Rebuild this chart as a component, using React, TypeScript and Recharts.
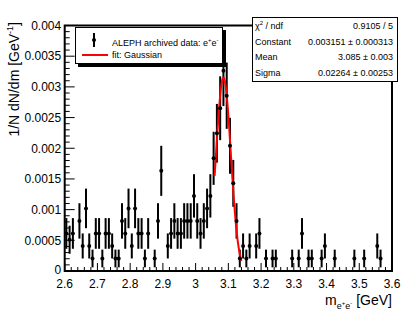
import React from 'react';
import { ComposedChart, Scatter, Line, XAxis, YAxis, ErrorBar, ReferenceArea } from 'recharts';

// histogram: 100 bins of 0.01 GeV from 2.6 to 3.6, entries per bin
const binLow = 2.6;
const binWidth = 0.01;
const binCounts = [
  6, 5, 6, 0, 8, 4, 10, 4, 2, 6,
  6, 2, 6, 6, 4, 2, 2, 8, 6, 10,
  4, 10, 6, 6, 2, 6, 0, 2, 8, 16,
  0, 4, 6, 8, 6, 6, 8, 8, 8, 12,
  8, 6, 8, 10, 12, 18, 22, 26, 32, 28,
  20, 14, 8, 2, 4, 2, 4, 0, 4, 6,
  0, 2, 0, 2, 2, 0, 0, 0, 0, 2,
  0, 2, 6, 0, 2, 2, 0, 0, 2, 4,
  0, 0, 2, 0, 0, 0, 0, 0, 2, 0,
  0, 2, 0, 0, 0, 4, 2, 0, 0, 0,
];
const entryWeight = 0.000102; // 1/N per entry

// gaussian fit (stats box)
const fitConstant = 0.003151;
const fitMean = 3.085;
const fitSigma = 0.02264;
const fitRange = [3.058, 3.14];

const xMajorTicks = [2.6, 2.7, 2.8, 2.9, 3.0, 3.1, 3.2, 3.3, 3.4, 3.5, 3.6];
const xTickLabels = ['2.6', '2.7', '2.8', '2.9', '3', '3.1', '3.2', '3.3', '3.4', '3.5', '3.6'];
const yMajorTicks = [0, 0.0005, 0.001, 0.0015, 0.002, 0.0025, 0.003, 0.0035, 0.004];
const yTickLabels = ['0', '0.0005', '0.001', '0.0015', '0.002', '0.0025', '0.003', '0.0035', '0.004'];

const points = binCounts
  .map((n, i) => ({
    m: binLow + (i + 0.5) * binWidth,
    v: n * entryWeight,
    err: Math.sqrt(n) * entryWeight,
  }))
  .filter((d) => d.v > 0);

const fitData = Array.from({ length: 81 }, (_, k) => {
  const m = fitRange[0] + ((fitRange[1] - fitRange[0]) * k) / 80;
  return { m, fit: fitConstant * Math.exp(-0.5 * ((m - fitMean) / fitSigma) ** 2) };
});

const xTicks = Array.from({ length: 51 }, (_, k) => Number((2.6 + k * 0.02).toFixed(3)));
const yTicks = Array.from({ length: 41 }, (_, k) => Number((k * 0.0001).toFixed(5)));

const font = '"Liberation Sans", Arial, Helvetica, sans-serif';

const XTick = (props: any) => {
  const { x, y, payload } = props;
  const idx = xMajorTicks.findIndex((t) => Math.abs(t - payload.value) < 1e-6);
  const major = idx >= 0;
  return (
    <g>
      <line x1={x} x2={x} y1={y} y2={y - (major ? 8 : 4)} stroke="#000" strokeWidth={1} />
      {major && (
        <text x={x} y={y + 16.5} textAnchor="middle" fontSize={12} fontFamily={font} fill="#000">
          {xTickLabels[idx]}
        </text>
      )}
    </g>
  );
};

const YTick = (props: any) => {
  const { x, y, payload } = props;
  const idx = yMajorTicks.findIndex((t) => Math.abs(t - payload.value) < 1e-9);
  const major = idx >= 0;
  return (
    <g>
      <line x1={x} x2={x + (major ? 10 : 5)} y1={y} y2={y} stroke="#000" strokeWidth={1} />
      {major && (
        <text
          x={x - 3.5}
          y={idx === 0 ? y + 2.5 : y + 4.3}
          textAnchor="end"
          fontSize={12}
          fontFamily={font}
          fill="#000"
        >
          {yTickLabels[idx]}
        </text>
      )}
    </g>
  );
};

const Dot = (props: any) => <circle cx={props.cx} cy={props.cy} r={2} fill="#000" />;

export default function App() {
  return (
    <div style={{ position: 'absolute', left: 0, top: 0, width: 407, height: 316, background: '#fff', fontFamily: font }}>
      <ComposedChart width={407} height={316} margin={{ top: 25.5, right: 15, bottom: 0, left: 0 }}>
        <XAxis
          type="number"
          dataKey="m"
          domain={[2.6, 3.6]}
          ticks={xTicks}
          interval={0}
          tick={<XTick />}
          tickLine={false}
          axisLine={false}
          tickSize={0}
          tickMargin={0}
          height={45}
          allowDataOverflow
          label={{
            content: () => (
              <text x={392} y={305} textAnchor="end" fontSize={14} fontFamily={font} fill="#000">
                m
                <tspan fontSize={9} dy={4}>e</tspan>
                <tspan fontSize={6} dy={-4}>+</tspan>
                <tspan fontSize={9} dy={4}>e</tspan>
                <tspan fontSize={6} dy={-4}>-</tspan>
                <tspan fontSize={14} dy={0}> [GeV]</tspan>
              </text>
            ),
          }}
        />
        <YAxis
          type="number"
          dataKey="v"
          domain={[0, 0.004]}
          ticks={yTicks}
          interval={0}
          tick={<YTick />}
          tickLine={false}
          axisLine={false}
          tickSize={0}
          tickMargin={0}
          width={64.7}
          allowDataOverflow
          label={{
            content: () => (
              <text
                x={19}
                y={22}
                transform="rotate(-90, 19, 22)"
                textAnchor="end"
                fontSize={14}
                fontFamily={font}
                fill="#000"
              >
                1/N dN/dm [GeV
                <tspan fontSize={9} dy={-6}>-1</tspan>
                <tspan dy={6}>]</tspan>
              </text>
            ),
          }}
        />
        <ReferenceArea x1={2.6} x2={3.6} y1={0} y2={0.004} fill="none" stroke="#000" strokeWidth={2} ifOverflow="visible" />
        <Scatter data={points} dataKey="v" shape={<Dot />} isAnimationActive={false}>
          <ErrorBar dataKey="err" direction="y" width={0} stroke="#000" strokeWidth={2} isAnimationActive={false} />
        </Scatter>
        <Line
          data={fitData}
          dataKey="fit"
          type="linear"
          stroke="#ff0000"
          strokeWidth={2}
          dot={false}
          activeDot={false}
          isAnimationActive={false}
        />
      </ComposedChart>

      {/* legend */}
      <div
        style={{
          position: 'absolute',
          left: 75,
          top: 27,
          width: 148,
          height: 37,
          boxSizing: 'border-box',
          border: '1px solid #000',
          background: '#fff',
          boxShadow: '3px 3px 0 #000',
          fontSize: 9,
        }}
      >
        <svg width={36} height={36} style={{ position: 'absolute', left: 0, top: 0 }}>
          <line x1={18} x2={18} y1={5} y2={19} stroke="#000" strokeWidth={2} />
          <circle cx={18} cy={12} r={2} fill="#000" />
          <line x1={6} x2={32} y1={27} y2={27} stroke="#ff0000" strokeWidth={2} />
        </svg>
        <div style={{ position: 'absolute', left: 36, top: 6, lineHeight: '12px', whiteSpace: 'nowrap' }}>
          ALEPH archived data: e<sup style={{ fontSize: 6 }}>+</sup>e<sup style={{ fontSize: 6 }}>-</sup>
        </div>
        <div style={{ position: 'absolute', left: 36, top: 21, lineHeight: '12px', whiteSpace: 'nowrap' }}>
          fit: Gaussian
        </div>
      </div>

      {/* fit statistics */}
      <div
        style={{
          position: 'absolute',
          left: 252,
          top: 17,
          width: 146,
          height: 65,
          boxSizing: 'border-box',
          border: '1px solid #000',
          background: '#fff',
          fontSize: 9,
          padding: '0 4px 0 2px',
          display: 'flex',
          flexDirection: 'column',
        }}
      >
        {[
          [<span key="a">χ<sup style={{ fontSize: 6 }}>2</sup> / ndf</span>, '0.9105 / 5'],
          ['Constant', '0.003151 ± 0.000313'],
          ['Mean', '3.085 ± 0.003'],
          ['Sigma', '0.02264 ± 0.00253'],
        ].map((row, i) => (
          <div key={i} style={{ flex: 1, display: 'flex', justifyContent: 'space-between', alignItems: 'center', whiteSpace: 'nowrap' }}>
            <span>{row[0]}</span>
            <span>{row[1]}</span>
          </div>
        ))}
      </div>
    </div>
  );
}
